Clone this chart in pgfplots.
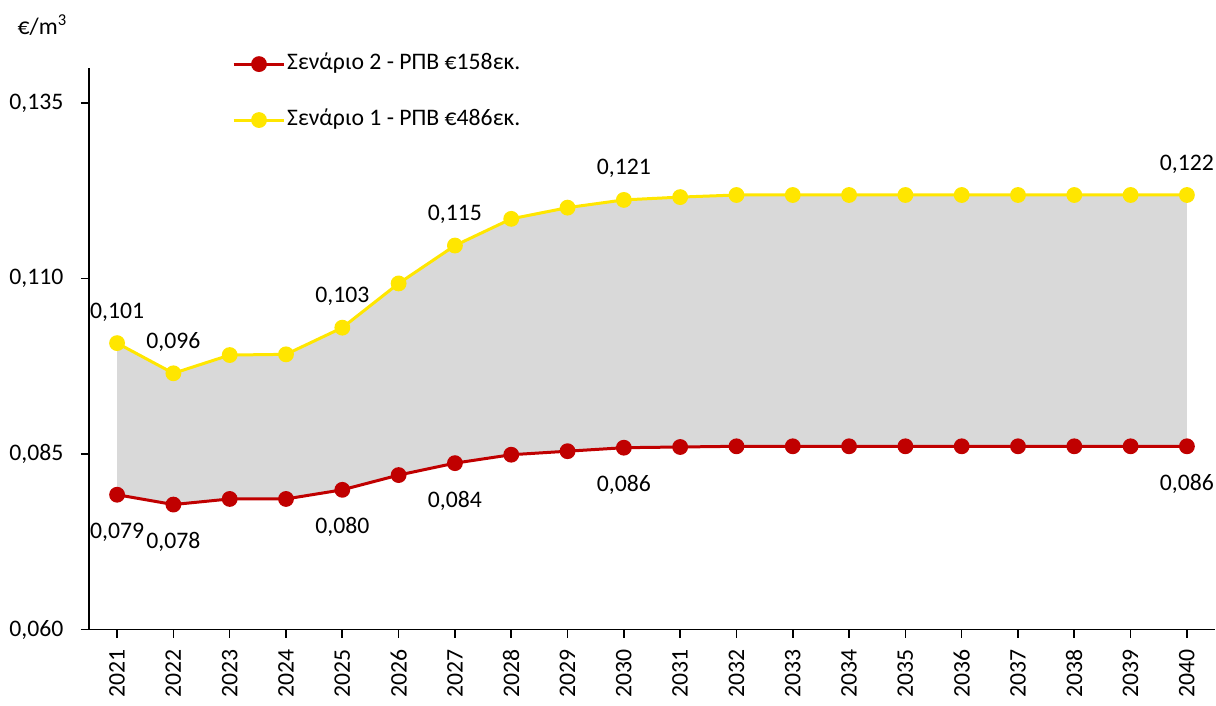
\documentclass[border=0pt]{standalone}
\usepackage{pgfplots}
\pgfplotsset{compat=1.18}
\usepackage{fontspec}
\setmainfont{Carlito}
\newcommand\cf{\fontsize{17.8}{21}\selectfont}
\definecolor{cred}{RGB}{192,0,0}
\definecolor{cyel}{RGB}{255,230,0}
\definecolor{cgray}{RGB}{217,217,217}
\pgfplotstableread{
year y
2021 0.1008
2022 0.0965
2023 0.0991
2024 0.0992
2025 0.1030
2026 0.1093
2027 0.1147
2028 0.1185
2029 0.1201
2030 0.1212
2031 0.1216
2032 0.1219
2033 0.1219
2034 0.1219
2035 0.1219
2036 0.1219
2037 0.1219
2038 0.1219
2039 0.1219
2040 0.1219
}\yellowdata
\pgfplotstableread{
year y
2021 0.0792
2022 0.0778
2023 0.0786
2024 0.0786
2025 0.0799
2026 0.0820
2027 0.0837
2028 0.0849
2029 0.0854
2030 0.0859
2031 0.0860
2032 0.0861
2033 0.0861
2034 0.0861
2035 0.0861
2036 0.0861
2037 0.0861
2038 0.0861
2039 0.0861
2040 0.0861
}\reddata
\begin{document}
\cf
\begin{tikzpicture}
\begin{axis}[
  at={(0pt,0pt)}, anchor=south west,
  scale only axis, width=845.25pt, height=421.5pt,
  xmin=2020.5, xmax=2040.5, ymin=0.060, ymax=0.140,
  axis x line*=bottom, axis y line*=left,
  axis line style={-, line width=1.4pt, black},
  x axis line style={shorten <=-6pt},
  xtick={2021,...,2040},
  ytick={0.060,0.085,0.110,0.135},
  tick align=outside, major tick length=6pt,
  tick style={line width=1.2pt, black},
  every tick label/.append style={font=\cf},
  xticklabel shift=3pt, yticklabel shift=7pt,
  xticklabel style={font=\cf, rotate=90, anchor=east, /pgf/number format/1000 sep={}, /pgf/number format/assume math mode=true},
  yticklabel style={font=\cf, /pgf/number format/.cd, use comma, fixed, fixed zerofill, precision=3, assume math mode=true},
  legend style={at={(0.127,0.957)}, anchor=west, draw=none, fill=none,
    inner sep=0pt, row sep=24pt, font=\cf,
    nodes={inner sep=1pt, text height=12pt, text depth=4pt}},
  legend cell align=left,
  legend image code/.code={\draw[#1,mark repeat=2,mark phase=2] plot coordinates {(0pt,0pt) (19pt,0pt) (38pt,0pt)};},
  clip=false,
]
\addplot[cgray, fill=cgray, draw=none, forget plot] coordinates {
(2021,0.1008) (2022,0.0965) (2023,0.0991) (2024,0.0992) (2025,0.1030) (2026,0.1093) (2027,0.1147) (2028,0.1185) (2029,0.1201) (2030,0.1212) (2031,0.1216) (2032,0.1219) (2033,0.1219) (2034,0.1219) (2035,0.1219) (2036,0.1219) (2037,0.1219) (2038,0.1219) (2039,0.1219) (2040,0.1219)
(2040,0.0861) (2039,0.0861) (2038,0.0861) (2037,0.0861) (2036,0.0861) (2035,0.0861) (2034,0.0861) (2033,0.0861) (2032,0.0861) (2031,0.0860) (2030,0.0859) (2029,0.0854) (2028,0.0849) (2027,0.0837) (2026,0.0820) (2025,0.0799) (2024,0.0786) (2023,0.0786) (2022,0.0778) (2021,0.0792)
} -- cycle;
\addplot[cred, line width=2.25pt, mark=*, mark size=4.8pt, mark options={solid, fill=cred, draw=cred}] table[x=year,y=y] {\reddata};
\addlegendentry{Σενάριο 2 - ΡΠΒ €158εκ.}
\addplot[cyel, line width=2.25pt, mark=*, mark size=4.8pt, mark options={solid, fill=cyel, draw=cyel}] table[x=year,y=y] {\yellowdata};
\addlegendentry{Σενάριο 1 - ΡΠΒ €486εκ.}
% data labels
\addplot[draw=none, mark=none, forget plot, nodes near coords, point meta=explicit symbolic,
  nodes near coords style={anchor=base, yshift=18.75pt, inner sep=0pt, font=\cf}]
  coordinates {(2021,0.1008)[0,101] (2022,0.0965)[0,096] (2025,0.1030)[0,103] (2027,0.1147)[0,115] (2030,0.1212)[0,121] (2040,0.1219)[0,122]};
\addplot[draw=none, mark=none, forget plot, nodes near coords, point meta=explicit symbolic,
  nodes near coords style={anchor=base, yshift=-33pt, inner sep=0pt, font=\cf}]
  coordinates {(2021,0.0792)[0,079] (2022,0.0778)[0,078] (2025,0.0799)[0,080] (2027,0.0837)[0,084] (2030,0.0859)[0,086] (2040,0.0861)[0,086]};
\end{axis}
\node[font=\cf] at (-35pt,453.75pt) {€/m\textsuperscript{3}};
\path (-66.75pt,-48.75pt) rectangle (845.25pt,472.5pt);
\end{tikzpicture}
\end{document}
